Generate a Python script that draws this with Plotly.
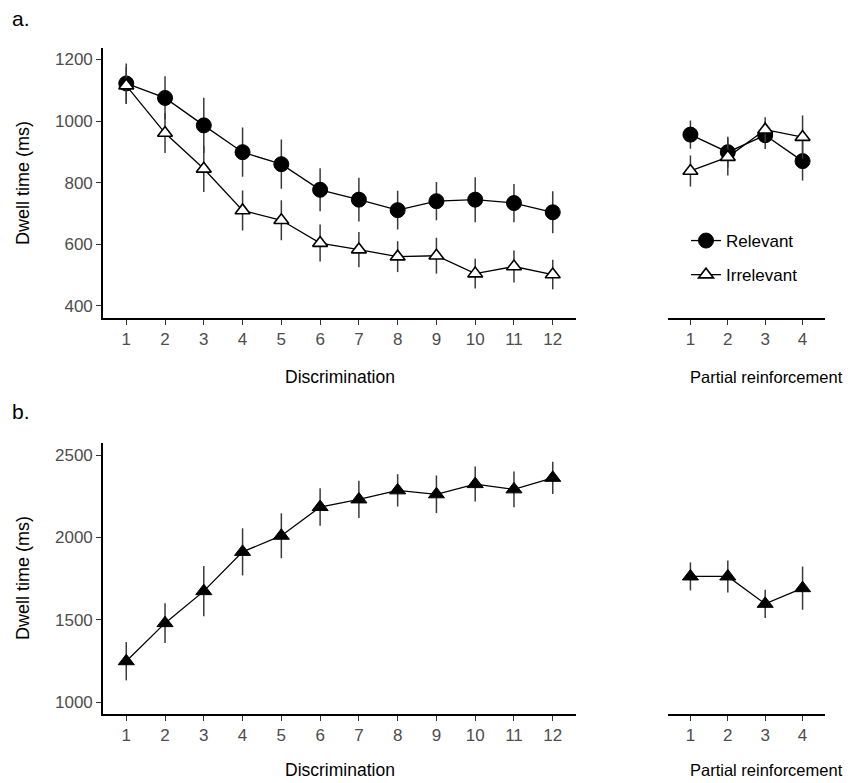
import plotly.graph_objects as go

# ---- data ----
disc_sessions = [1, 2, 3, 4, 5, 6, 7, 8, 9, 10, 11, 12]
pr_sessions = [1, 2, 3, 4]

rel_disc = [1122, 1075, 986, 899, 860, 777, 745, 711, 740, 745, 734, 704]
rel_disc_se = [65, 70, 90, 80, 80, 70, 71, 63, 62, 73, 62, 68]
irr_disc = [1115, 961, 845, 710, 678, 604, 583, 560, 563, 505, 528, 502]
irr_disc_se = [60, 65, 75, 65, 65, 60, 57, 50, 58, 48, 52, 48]

rel_pr = [956, 899, 954, 870]
rel_pr_se = [46, 50, 45, 63]
irr_pr = [838, 883, 972, 948]
irr_pr_se = [50, 60, 40, 70]

dwell_disc = [1250, 1481, 1675, 1913, 2011, 2185, 2231, 2286, 2262, 2324, 2292, 2362]
dwell_disc_se = [116, 121, 153, 143, 136, 114, 113, 98, 114, 106, 108, 98]
dwell_pr = [1764, 1764, 1598, 1693]
dwell_pr_se = [85, 97, 86, 131]

top_ticks = [400, 600, 800, 1000, 1200]
bottom_ticks = [1000, 1500, 2000, 2500]

FONT = "Liberation Sans, Arial, sans-serif"
# page body has an 8px default margin; figure fills the rest of the window
OFF = 8
W, H = 852 - OFF, 783 - OFF

fig = go.Figure()

def err(vals):
    return dict(type="data", array=vals, visible=True, width=0,
                color="#3a3a3a", thickness=1.5)

circle = dict(symbol="circle", size=15, color="black",
              line=dict(color="black", width=1))
tri_open = dict(symbol="triangle-up", size=13, color="white",
                line=dict(color="black", width=1.6))
tri_fill = dict(symbol="triangle-up", size=14, color="black",
                line=dict(color="black", width=1))
line_style = dict(color="black", width=1.3)

# top-left
fig.add_trace(go.Scatter(x=disc_sessions, y=rel_disc, error_y=err(rel_disc_se),
                         mode="lines+markers", marker=circle, line=line_style,
                         name="Relevant", legendgroup="a", legendrank=1, showlegend=True,
                         xaxis="x", yaxis="y"))
fig.add_trace(go.Scatter(x=disc_sessions, y=irr_disc, error_y=err(irr_disc_se),
                         mode="lines+markers", marker=tri_open, line=line_style,
                         name="Irrelevant", legendgroup="b", legendrank=2, showlegend=True,
                         xaxis="x", yaxis="y"))
# top-right
fig.add_trace(go.Scatter(x=pr_sessions, y=rel_pr, error_y=err(rel_pr_se),
                         mode="lines+markers", marker=circle, line=line_style,
                         name="Relevant", legendgroup="a", showlegend=False,
                         xaxis="x2", yaxis="y2"))
fig.add_trace(go.Scatter(x=pr_sessions, y=irr_pr, error_y=err(irr_pr_se),
                         mode="lines+markers", marker=tri_open, line=line_style,
                         name="Irrelevant", legendgroup="b", showlegend=False,
                         xaxis="x2", yaxis="y2"))
# bottom
fig.add_trace(go.Scatter(x=disc_sessions, y=dwell_disc, error_y=err(dwell_disc_se),
                         mode="lines+markers", marker=tri_fill, line=line_style,
                         showlegend=False, xaxis="x3", yaxis="y3"))
fig.add_trace(go.Scatter(x=pr_sessions, y=dwell_pr, error_y=err(dwell_pr_se),
                         mode="lines+markers", marker=tri_fill, line=line_style,
                         showlegend=False, xaxis="x4", yaxis="y4"))

def px_x(p):
    return (p - OFF) / W

def px_y(p):
    return 1 - (p - OFF) / H

tickfont = dict(family=FONT, size=17, color="#4d4d4d")

def xaxis(domain, rng, vals, anchor):
    return dict(domain=domain, range=rng, tickvals=vals, ticktext=[str(v) for v in vals],
                showline=True, linecolor="black", linewidth=1.6,
                ticks="outside", ticklen=5, tickwidth=1.3, tickcolor="#333333",
                tickfont=tickfont, showgrid=False, zeroline=False, anchor=anchor,
                fixedrange=True)

def yaxis(domain, rng, vals, anchor, show=True):
    d = dict(domain=domain, range=rng, showgrid=False, zeroline=False, anchor=anchor,
             fixedrange=True)
    if show:
        d.update(tickvals=vals, ticktext=[str(v) for v in vals], showline=True,
                 linecolor="black", linewidth=1.6, ticks="outside", ticklen=5,
                 tickwidth=1.3, tickcolor="#333333", tickfont=tickfont)
    else:
        d.update(showline=False, showticklabels=False, ticks="")
    return d

left_dom = [px_x(103), px_x(576)]
right_dom = [px_x(668), px_x(825)]
top_dom = [px_y(318), px_y(47.7)]
bot_dom = [px_y(714), px_y(442.7)]

top_range = [361, 1238]
bot_range = [930, 2575]

fig.update_layout(
    width=W, height=H,
    margin=dict(l=0, r=0, t=0, b=0),
    paper_bgcolor="white", plot_bgcolor="white",
    font=dict(family=FONT, color="black"),
    xaxis=xaxis(left_dom, [0.4, 12.6], disc_sessions, "y"),
    yaxis=yaxis(top_dom, top_range, top_ticks, "x"),
    xaxis2=xaxis(right_dom, [0.4, 4.6], pr_sessions, "y2"),
    yaxis2=yaxis(top_dom, top_range, top_ticks, "x2", show=False),
    xaxis3=xaxis(left_dom, [0.4, 12.6], disc_sessions, "y3"),
    yaxis3=yaxis(bot_dom, bot_range, bottom_ticks, "x3"),
    xaxis4=xaxis(right_dom, [0.4, 4.6], pr_sessions, "y4"),
    yaxis4=yaxis(bot_dom, bot_range, bottom_ticks, "x4", show=False),
    showlegend=True,
    legend=dict(x=px_x(686), y=px_y(223), xanchor="left", yanchor="top",
                font=dict(family=FONT, size=17, color="black"),
                traceorder="grouped", tracegroupgap=9,
                bgcolor="rgba(0,0,0,0)", borderwidth=0),
)

ann = []
title_font = dict(family=FONT, size=17.5, color="black")
ann.append(dict(text="a.", x=px_x(10), y=px_y(18), xref="paper", yref="paper",
                xanchor="left", yanchor="middle", showarrow=False,
                font=dict(family=FONT, size=21, color="black")))
ann.append(dict(text="b.", x=px_x(10), y=px_y(412), xref="paper", yref="paper",
                xanchor="left", yanchor="middle", showarrow=False,
                font=dict(family=FONT, size=21, color="black")))
for yc in (377, 770):
    ann.append(dict(text="Discrimination", x=(left_dom[0] + left_dom[1]) / 2, y=px_y(yc),
                    xref="paper", yref="paper", xanchor="center", yanchor="middle",
                    showarrow=False, font=title_font))
    ann.append(dict(text="Partial reinforcement", x=px_x(766), y=px_y(yc),
                    xref="paper", yref="paper", xanchor="center", yanchor="middle",
                    showarrow=False, font=dict(family=FONT, size=16.5, color="black")))
for yc in (183, 578):
    ann.append(dict(text="Dwell time (ms)", x=px_x(23), y=px_y(yc), xref="paper",
                    yref="paper", xanchor="center", yanchor="middle", textangle=-90,
                    showarrow=False, font=dict(family=FONT, size=18, color="black")))
fig.update_layout(annotations=ann)

fig.write_html("out.html")
